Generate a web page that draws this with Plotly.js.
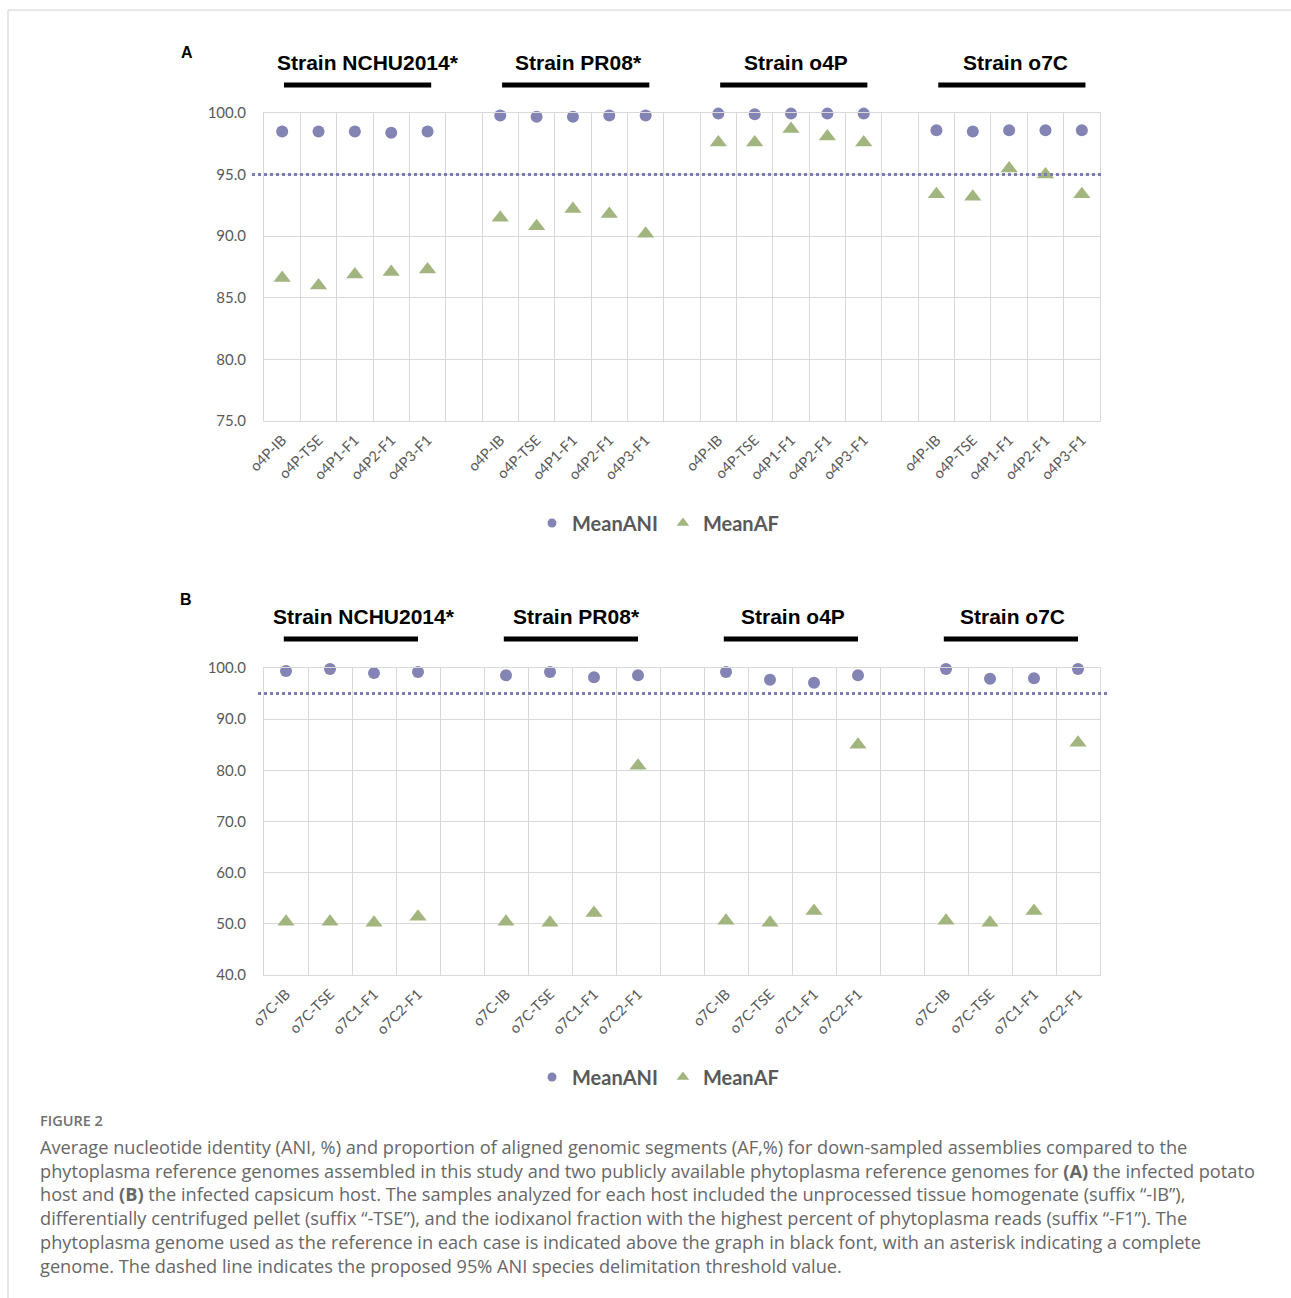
<!DOCTYPE html>
<html>
<head>
<meta charset="utf-8">
<script src="https://cdn.plot.ly/plotly-3.0.1.min.js"></script>
<style>
  html, body { margin: 0; padding: 0; background: #ffffff; }
  #chart { width: 1291px; height: 1298px; }
</style>
</head>
<body>
<div id="chart"></div>
<script>
// ---------- DATA ----------
const strains = ['Strain NCHU2014*', 'Strain PR08*', 'Strain o4P', 'Strain o7C'];

// Panel A (potato host) samples
const samplesA = ['o4P-IB', 'o4P-TSE', 'o4P1-F1', 'o4P2-F1', 'o4P3-F1'];
// values in strain order (NCHU2014*, PR08*, o4P, o7C), 5 samples each
const meanANI_A = [
  98.5, 98.5, 98.5, 98.4, 98.5,
  99.8, 99.7, 99.7, 99.8, 99.8,
  99.95, 99.9, 99.95, 99.95, 99.95,
  98.6, 98.5, 98.6, 98.6, 98.6
];
const meanAF_A = [
  86.6, 86.0, 86.9, 87.1, 87.3,
  91.5, 90.8, 92.2, 91.8, 90.2,
  97.6, 97.6, 98.7, 98.1, 97.6,
  93.4, 93.2, 95.5, 95.0, 93.4
];

// Panel B (capsicum host) samples
const samplesB = ['o7C-IB', 'o7C-TSE', 'o7C1-F1', 'o7C2-F1'];
const meanANI_B = [
  99.4, 99.8, 99.0, 99.2,
  98.6, 99.2, 98.2, 98.6,
  99.2, 97.7, 97.1, 98.6,
  99.8, 97.9, 98.0, 99.8
];
const meanAF_B = [
  50.4, 50.4, 50.2, 51.4,
  50.4, 50.2, 52.1, 80.9,
  50.6, 50.2, 52.5, 85.0,
  50.6, 50.2, 52.5, 85.4
];

const threshold = 95;

const captionTitle = 'FIGURE 2';
const captionLines = [
  'Average nucleotide identity (ANI, %) and proportion of aligned genomic segments (AF,%) for down-sampled assemblies compared to the',
  'phytoplasma reference genomes assembled in this study and two publicly available phytoplasma reference genomes for <b>(A)</b> the infected potato',
  'host and <b>(B)</b> the infected capsicum host. The samples analyzed for each host included the unprocessed tissue homogenate (suffix \u201c-IB\u201d),',
  'differentially centrifuged pellet (suffix \u201c-TSE\u201d), and the iodixanol fraction with the highest percent of phytoplasma reads (suffix \u201c-F1\u201d). The',
  'phytoplasma genome used as the reference in each case is indicated above the graph in black font, with an asterisk indicating a complete',
  'genome. The dashed line indicates the proposed 95% ANI species delimitation threshold value.'
];

// ---------- LAYOUT HELPERS ----------
const W = 1291, H = 1298;
const px = v => v / W;
const py = v => 1 - v / H;

function positions(samples) {
  const xs = [], labels = [];
  strains.forEach((s, g) => {
    samples.forEach((name, i) => {
      xs.push(g * (samples.length + 1) + i);
      labels.push(name);
    });
  });
  return { xs, labels };
}
const posA = positions(samplesA);
const posB = positions(samplesB);

const aniColor = '#8383b4';
const afColor = '#a2b57e';
const gridColor = '#d9d9d9';
const tickColor = '#595959';

const traces = [
  { x: posA.xs, y: meanANI_A, type: 'scatter', mode: 'markers', name: 'MeanANI',
    xaxis: 'x', yaxis: 'y', showlegend: false, cliponaxis: false,
    marker: { symbol: 'circle', size: 12, color: aniColor } },
  { x: posA.xs, y: meanAF_A, type: 'scatter', mode: 'markers', name: 'MeanAF',
    xaxis: 'x', yaxis: 'y', showlegend: false, cliponaxis: false,
    marker: { symbol: 'triangle-up', size: 15, color: afColor } },
  { x: posB.xs, y: meanANI_B, type: 'scatter', mode: 'markers', name: 'MeanANI',
    xaxis: 'x2', yaxis: 'y2', showlegend: false, cliponaxis: false,
    marker: { symbol: 'circle', size: 12, color: aniColor } },
  { x: posB.xs, y: meanAF_B, type: 'scatter', mode: 'markers', name: 'MeanAF',
    xaxis: 'x2', yaxis: 'y2', showlegend: false, cliponaxis: false,
    marker: { symbol: 'triangle-up', size: 15, color: afColor } }
];
// legend entries (smaller symbols, as in the reference legend)
[['legend', 'x', 'y'], ['legend2', 'x2', 'y2']].forEach(([lg, xa, ya]) => {
  traces.push({ x: [null], y: [null], type: 'scatter', mode: 'markers', name: 'MeanANI',
    xaxis: xa, yaxis: ya, legend: lg, marker: { symbol: 'circle', size: 9, color: aniColor } });
  traces.push({ x: [null], y: [null], type: 'scatter', mode: 'markers', name: 'MeanAF',
    xaxis: xa, yaxis: ya, legend: lg, marker: { symbol: 'triangle-up', size: 11, color: afColor } });
});

function xAxis(pos, nCat) {
  return {
    domain: [px(264), px(1100)],
    range: [-0.5, nCat - 0.5],
    tickmode: 'array', tickvals: pos.xs, ticktext: pos.labels,
    tickangle: -45,
    tickfont: { family: 'Lato, sans-serif', size: 14.5, color: tickColor },
    ticks: '', ticklabelstandoff: 4, showgrid: false, zeroline: false,
    showline: true, mirror: true, linecolor: gridColor, linewidth: 1,
    minor: { tick0: -0.5, dtick: 1, showgrid: true, gridcolor: gridColor, gridwidth: 1, ticks: '' },
    fixedrange: true
  };
}
function yAxis(lo, hi, step, top, bottom) {
  return {
    domain: [py(bottom), py(top)],
    range: [lo, hi], dtick: step, tick0: lo, tickformat: '.1f',
    tickfont: { family: 'Lato, sans-serif', size: 15, color: tickColor },
    ticks: '', ticklabelstandoff: 14,
    showgrid: true, gridcolor: gridColor, gridwidth: 1, zeroline: false,
    showline: true, mirror: true, linecolor: gridColor, linewidth: 1,
    fixedrange: true
  };
}

const nA = strains.length * (samplesA.length + 1) - 1;
const nB = strains.length * (samplesB.length + 1) - 1;

const shapes = [
  // page frame
  { type: 'line', xref: 'paper', yref: 'paper', x0: px(8), x1: 1, y0: py(10), y1: py(10),
    line: { color: '#cfcfcf', width: 1 } },
  { type: 'line', xref: 'paper', yref: 'paper', x0: px(8), x1: px(8), y0: py(10), y1: 0,
    line: { color: '#cfcfcf', width: 1 } },
  // threshold lines
  { type: 'line', xref: 'paper', yref: 'y', x0: px(252), x1: px(1103), y0: threshold, y1: threshold,
    line: { color: '#7c7cb0', width: 3, dash: 'dot' } },
  { type: 'line', xref: 'paper', yref: 'y2', x0: px(258), x1: px(1108), y0: threshold, y1: threshold,
    line: { color: '#7c7cb0', width: 3, dash: 'dot' } }
];

const annotations = [];
const labelFont = { family: 'Liberation Sans, Arial, sans-serif', size: 21, color: '#000000', weight: 'bold' };
const shiftA = [13, 6, 5, 6];
const shiftB = [12, 4, 1, 0];

strains.forEach((s, g) => {
  // Panel A
  const a0 = g * (samplesA.length + 1), a1 = a0 + samplesA.length - 1;
  shapes.push({ type: 'line', xref: 'x', yref: 'paper', x0: a0 + 0.05, x1: a1 + 0.1,
    y0: py(85), y1: py(85), line: { color: '#000000', width: 5 } });
  annotations.push({ xref: 'x', yref: 'paper', x: (a0 + a1) / 2, y: py(62), text: s,
    showarrow: false, xanchor: 'center', yanchor: 'middle', xshift: shiftA[g], font: labelFont });
  // Panel B
  const b0 = g * (samplesB.length + 1), b1 = b0 + samplesB.length - 1;
  shapes.push({ type: 'line', xref: 'x2', yref: 'paper', x0: b0 - 0.05, x1: b1,
    y0: py(639), y1: py(639), line: { color: '#000000', width: 5 } });
  annotations.push({ xref: 'x2', yref: 'paper', x: (b0 + b1) / 2, y: py(616), text: s,
    showarrow: false, xanchor: 'center', yanchor: 'middle', xshift: shiftB[g], font: labelFont });
});

annotations.push({ xref: 'paper', yref: 'paper', x: px(187), y: py(52), text: 'A', showarrow: false,
  xanchor: 'center', yanchor: 'middle', font: { family: 'Liberation Sans, Arial, sans-serif', size: 16, color: '#000', weight: 'bold' } });
annotations.push({ xref: 'paper', yref: 'paper', x: px(186), y: py(599), text: 'B', showarrow: false,
  xanchor: 'center', yanchor: 'middle', font: { family: 'Liberation Sans, Arial, sans-serif', size: 16, color: '#000', weight: 'bold' } });

annotations.push({ xref: 'paper', yref: 'paper', x: px(40), y: py(1120), text: captionTitle, showarrow: false,
  xanchor: 'left', yanchor: 'middle', xshift: -2,
  font: { family: 'Open Sans, sans-serif', size: 14.5, color: '#707070', weight: 600 } });
const lineY = [1147, 1171, 1194, 1218, 1242, 1266];
captionLines.forEach((t, i) => {
  annotations.push({ xref: 'paper', yref: 'paper', x: px(40), y: py(lineY[i]), text: t, showarrow: false,
    xanchor: 'left', yanchor: 'middle', xshift: -2,
    font: { family: 'Open Sans, sans-serif', size: 18.2, color: '#676767' } });
});

const legendCommon = {
  orientation: 'h', xanchor: 'center', yanchor: 'middle',
  font: { family: 'Lato, sans-serif', size: 20, color: tickColor, weight: 'bold' },
  bgcolor: 'rgba(0,0,0,0)', itemwidth: 30, tracegroupgap: 0
};

const layout = {
  width: W, height: H,
  margin: { l: 0, r: 0, t: 0, b: 0 },
  paper_bgcolor: '#ffffff', plot_bgcolor: '#ffffff',
  showlegend: true,
  xaxis: Object.assign(xAxis(posA, nA), { anchor: 'y' }),
  yaxis: Object.assign(yAxis(75, 100, 5, 113, 421), { anchor: 'x' }),
  xaxis2: Object.assign(xAxis(posB, nB), { anchor: 'y2' }),
  yaxis2: Object.assign(yAxis(40, 100, 10, 668, 975), { anchor: 'x2' }),
  legend: Object.assign({}, legendCommon, { x: px(658), y: py(523) }),
  legend2: Object.assign({}, legendCommon, { x: px(658), y: py(1077) }),
  shapes: shapes,
  annotations: annotations
};

Plotly.newPlot('chart', traces, layout, { staticPlot: true, displayModeBar: false });
</script>
</body>
</html>
